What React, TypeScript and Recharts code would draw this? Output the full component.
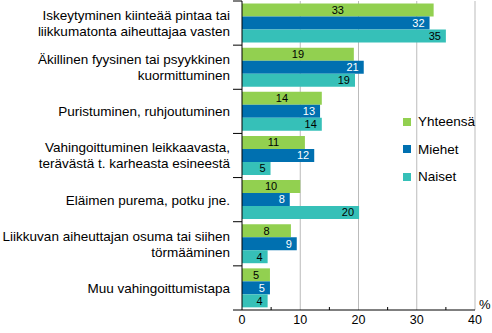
import React from "react";
import {
  BarChart,
  Bar,
  XAxis,
  YAxis,
  CartesianGrid,
  LabelList,
} from "recharts";

// Tapaturmien vahingoittumistapa, %
const categories = [
  "Iskeytyminen kiinteää pintaa tai\nliikkumatonta aiheuttajaa vasten",
  "Äkillinen fyysinen tai psyykkinen\nkuormittuminen",
  "Puristuminen, ruhjoutuminen",
  "Vahingoittuminen leikkaavasta,\nterävästä t. karheasta esineestä",
  "Eläimen purema, potku jne.",
  "Liikkuvan aiheuttajan osuma tai siihen\ntörmääminen",
  "Muu vahingoittumistapa",
];
const yhteensa = [32.9, 19.2, 13.7, 10.8, 10.0, 8.4, 4.8];
const miehet = [32.2, 20.9, 13.4, 12.4, 8.2, 9.4, 4.8];
const naiset = [35.0, 19.4, 13.7, 4.9, 20.1, 4.4, 4.4];

const X_MAX = 40;
const xTicks = [0, 5, 10, 15, 20, 25, 30, 35, 40];
const gridLines = [10, 20, 30, 40];

const series = [
  { key: "yhteensa", name: "Yhteensä", color: "#92D050", labelColor: "#000", pos: "center" },
  { key: "miehet", name: "Miehet", color: "#0070B0", labelColor: "#fff", pos: "insideRight" },
  { key: "naiset", name: "Naiset", color: "#36C0B8", labelColor: "#000", pos: "insideRight" },
];

const data = categories.map((c, i) => ({
  category: c,
  yhteensa: yhteensa[i],
  miehet: miehet[i],
  naiset: naiset[i],
}));

const W = 492;
const H = 333;
const MARGIN = { top: 1, right: 17, bottom: 0, left: 0 };
const X_AXIS_H = 23;
const PLOT_H = H - MARGIN.top - MARGIN.bottom - X_AXIS_H;
const BAND = PLOT_H / categories.length;
const FONT = "'Liberation Sans', Arial, sans-serif";

const CategoryTick = (props: any) => {
  const { x, y, payload, index } = props;
  const lines = String(payload.value).split("\n");
  const lh = 16;
  const start = -((lines.length - 1) * lh) / 2;
  return (
    <g>
      <line x1={x - 9} x2={x} y1={y - BAND / 2} y2={y - BAND / 2} stroke="#000" />
      {index === categories.length - 1 && (
        <line x1={x - 9} x2={x} y1={y + BAND / 2} y2={y + BAND / 2} stroke="#000" />
      )}
      <text x={x - 12} y={y} textAnchor="end" fontSize={13.5} fill="#000" fontFamily={FONT}>
        {lines.map((l, i) => (
          <tspan key={i} x={x - 12} y={y + start + i * lh} dy="0.36em">
            {l}
          </tspan>
        ))}
      </text>
    </g>
  );
};

const ValueTick = (props: any) => {
  const { x, y, payload } = props;
  if (payload.value % 10 !== 0) {
    return <line x1={x} x2={x} y1={y} y2={y - 3} stroke="#000" />;
  }
  return (
    <text x={x} y={y + 14} textAnchor="middle" fontSize={12.5} fill="#000" fontFamily={FONT}>
      {payload.value}
    </text>
  );
};

// grid only at the labelled ticks (10, 20, 30, 40)
const gridX = ({ offset }: any) =>
  gridLines.map((v) => offset.left + (v / X_MAX) * offset.width);

export default function App() {
  return (
    <div style={{ position: "absolute", left: 0, top: 0, width: W, height: H, background: "#fff" }}>
      <BarChart
        width={W}
        height={H}
        data={data}
        layout="vertical"
        margin={MARGIN}
        barCategoryGap={2.5}
        barGap={0}
      >
        <CartesianGrid
          horizontal={false}
          stroke="#BBBBBB"
          verticalCoordinatesGenerator={gridX}
        />
        <XAxis
          type="number"
          domain={[0, X_MAX]}
          ticks={xTicks}
          interval={0}
          height={X_AXIS_H}
          axisLine={{ stroke: "#000" }}
          tickLine={false}
          tickSize={0}
          tickMargin={0}
          tick={<ValueTick />}
        />
        <YAxis
          type="category"
          dataKey="category"
          width={242}
          axisLine={{ stroke: "#000" }}
          tickLine={false}
          tickSize={0}
          tickMargin={0}
          interval={0}
          tick={<CategoryTick />}
        />
        {series.map((s) => (
          <Bar key={s.key} dataKey={s.key} name={s.name} fill={s.color} isAnimationActive={false}>
            <LabelList
              dataKey={s.key}
              position={s.pos as any}
              formatter={(v: any) => Math.round(Number(v))}
              fill={s.labelColor}
              fontSize={11}
              fontFamily={FONT}
            />
          </Bar>
        ))}
      </BarChart>
      <div
        style={{
          position: "absolute",
          left: 403,
          top: 108,
          fontFamily: FONT,
          fontSize: 13.5,
          color: "#000",
        }}
      >
        {series.map((s) => (
          <div key={s.key} style={{ display: "flex", alignItems: "center", height: 27.5 }}>
            <span style={{ width: 8, height: 8, background: s.color, marginRight: 7 }} />
            <span>{s.name}</span>
          </div>
        ))}
      </div>
      <div
        style={{
          position: "absolute",
          left: 479,
          top: 297,
          fontFamily: FONT,
          fontSize: 13,
          color: "#000",
        }}
      >
        %
      </div>
    </div>
  );
}
